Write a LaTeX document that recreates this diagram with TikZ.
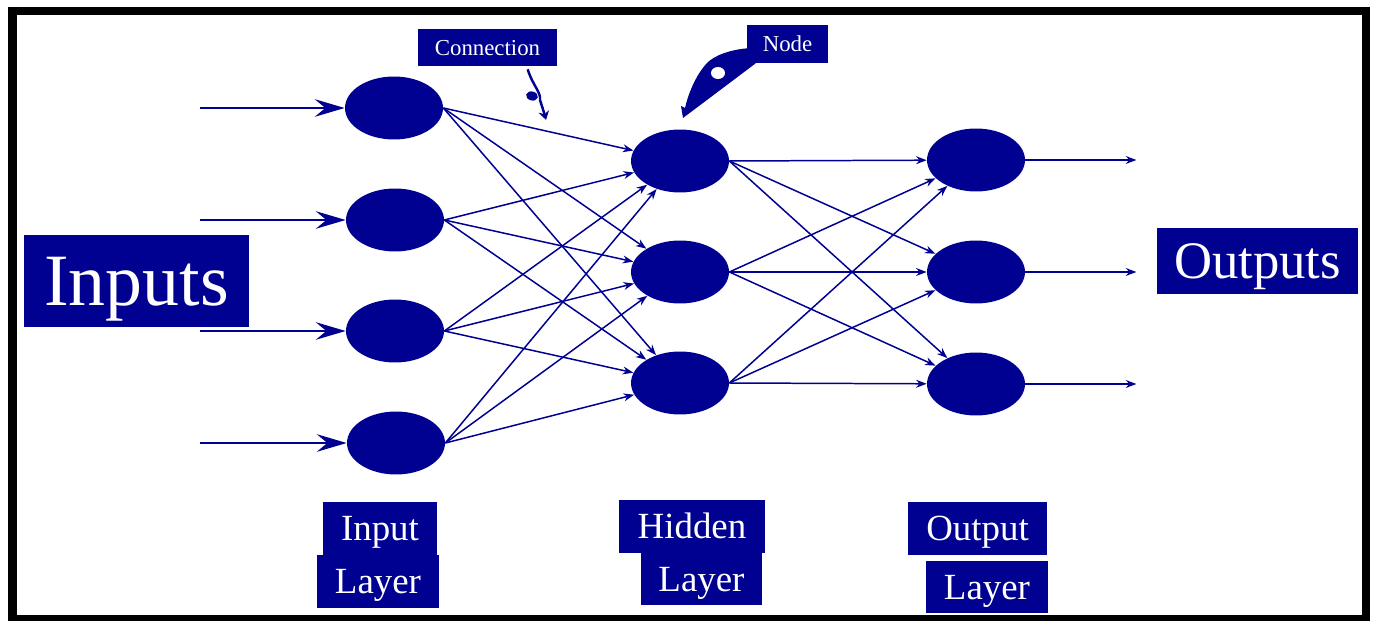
\documentclass[tikz,border=0pt]{standalone}
\usepackage{fontspec}
\setmainfont{Liberation Serif}
\newfontfamily\labelfont{Liberation Serif}
\usepackage{tikz}
\usetikzlibrary{shapes.geometric, arrows.meta, calc}
\definecolor{nnNavy}{RGB}{0,0,145}

\tikzset{
	neuron/.style={ellipse, fill=nnNavy, inner sep=0pt, minimum width=1.96cm, minimum height=1.26cm},
	tag/.style={fill=nnNavy, text=white, inner sep=0pt, text depth=0pt, text height={0.66*#1pt}, font=\labelfont\fontsize{#1}{#1}\selectfont},
	link/.style={nnNavy, line width=0.85pt, -{Stealth[length=6pt, width=4.5pt]}},
	feed/.style={nnNavy, line width=0.85pt, -{Stealth[length=17pt, width=10pt, inset=6pt]}}
}

\begin{document}
\begin{tikzpicture}[x=0.02cm, y=-0.02cm]
	\useasboundingbox (0,0) rectangle (1377,621);
	\draw[line width=5.1pt] (12.5,11) rectangle (1366,619);
	% layers
	\node[neuron] (i1) at (394,108) {};
	\node[neuron] (i2) at (395,220) {};
	\node[neuron] (i3) at (395,331) {};
	\node[neuron] (i4) at (396,443) {};
	\node[neuron] (h1) at (680,161) {};
	\node[neuron] (h2) at (680,272) {};
	\node[neuron] (h3) at (680,383) {};
	\node[neuron] (o1) at (976,160) {};
	\node[neuron] (o2) at (976,272) {};
	\node[neuron] (o3) at (976,384) {};
	% inputs and outputs
	\foreach \n/\y in {1/108, 2/220, 3/331, 4/443} {
		\coordinate (in\n) at (200,\y);
		\draw[feed] (in\n) -- (i\n.west);
	}
	\foreach \n in {1,2,3} {
		\coordinate (out\n) at ($(o\n.east)+(111,0)$);
		\draw[link] (o\n.east) -- (out\n);
	}
	% connections
	\foreach \i in {1,...,4}
		\foreach \h in {1,2,3}
			\draw[link] (i\i.east) -- (h\h);
	\foreach \h in {1,2,3}
		\foreach \o in {1,2,3}
			\draw[link] (h\h.east) -- (o\o);
	% labels
	\node[tag=42, minimum width=4.5cm, minimum height=1.84cm] (inputs) at (136.5,281) {Inputs};
	\node[tag=30, minimum width=4.02cm, minimum height=1.32cm] (outputs) at (1257.5,261) {Outputs};
	\node[tag=21, minimum width=2.28cm, minimum height=1.06cm] (inputlbl) at (380,528.5) {Input};
	\node[tag=21, minimum width=2.44cm, minimum height=1.06cm] (inputlayer) at (378,581.5) {Layer};
	\node[tag=21, minimum width=2.92cm, minimum height=1.06cm] (hiddenlbl) at (692,526.5) {Hidden};
	\node[tag=21, minimum width=2.42cm, minimum height=1.04cm] (hiddenlayer) at (701.5,579) {Layer};
	\node[tag=21, minimum width=2.78cm, minimum height=1.06cm] (outputlbl) at (977.5,528.5) {Output};
	\node[tag=21, minimum width=2.44cm, minimum height=1.04cm] (outputlayer) at (987,587) {Layer};
	% callouts
	\node[tag=13, minimum width=2.78cm, minimum height=0.74cm] (connection) at (487.5,47.5) {Connection};
	\coordinate (connTip) at (546,120);
	\draw[nnNavy, line width=1.4pt, -{Stealth[length=5pt, width=6pt]}] ($(connection.south west)+(110,3)$) .. controls (533,86) and (541,92) .. (540,100) .. controls (543,108) .. (connTip);
	\fill[nnNavy, rotate around={-15:(532,96)}] (532,96) ellipse (6 and 4.5);
	\node[tag=13, minimum width=1.62cm, minimum height=0.76cm] (nodelabel) at (787.5,44) {Node};
	\fill[nnNavy] ($(nodelabel.south west)+(0,-15)$) .. controls (730,50) and (715,55) .. (707,63) .. controls (695,76) and (688,95) .. (685,108) -- (681,106) -- (683,118) -- ($(nodelabel.south west)+(9,0)$) -- cycle;
	\fill[white] (718,73) ellipse (7 and 6);
\end{tikzpicture}
\end{document}
